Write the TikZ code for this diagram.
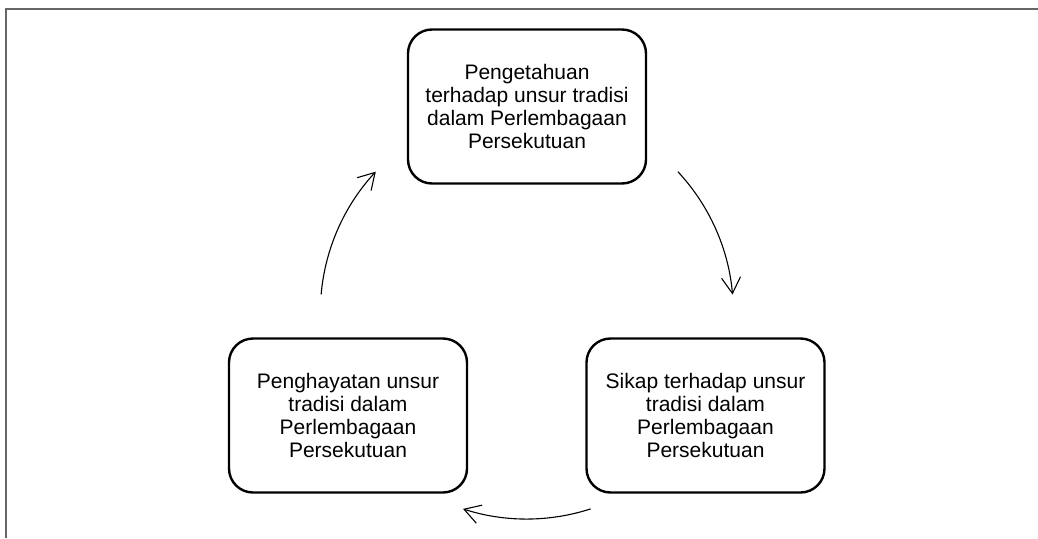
\documentclass[tikz,border=0pt]{standalone}
\usepackage{fontspec}
\setmainfont{Liberation Sans}
\usepackage{tikz}
\usetikzlibrary{arrows.meta,calc}
\definecolor{framegray}{HTML}{666666}
\tikzset{
  stage/.style={draw,line width=2.4pt,rounded corners=24pt,minimum width=238pt,minimum height=154pt,align=center,font=\fontsize{21}{23}\selectfont},
  flow/.style={line width=1.1pt,-{Straight Barb[length=16pt,width=19pt]}}
}

\begin{document}
\begin{tikzpicture}[x=1pt,y=1pt]
  \useasboundingbox (0,0) rectangle (1038,-538);
  \draw[line width=2pt,framegray] (6,-538) -- (6,-8.5) -- (1038,-8.5);
  \node[stage] (know) at (527,-106.5) {Pengetahuan\\terhadap unsur tradisi\\dalam Perlembagaan\\Persekutuan};
  \node[stage] (attitude) at (705.5,-415.5) {Sikap terhadap unsur\\tradisi dalam\\Perlembagaan\\Persekutuan};
  \node[stage] (appreciate) at (348,-415.5) {Penghayatan unsur\\tradisi dalam\\Perlembagaan\\Persekutuan};
  \coordinate (ring) at (barycentric cs:know=1,attitude=1,appreciate=1);
  \draw[flow] ($(ring)+(43:206.5)$) arc[start angle=43,end angle=5,radius=206.5];
  \draw[flow] ($(ring)+(-72:206.5)$) arc[start angle=-72,end angle=-108,radius=206.5];
  \draw[flow] ($(ring)+(175:206.5)$) arc[start angle=175,end angle=137,radius=206.5];
\end{tikzpicture}
\end{document}
